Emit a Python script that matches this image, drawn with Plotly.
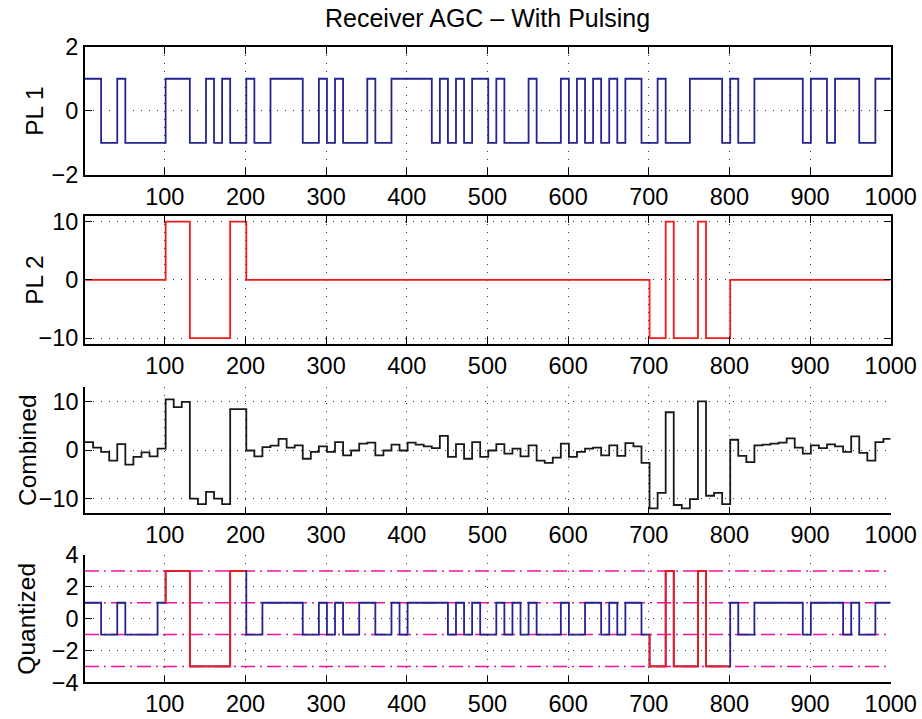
import numpy as np
import plotly.graph_objects as go

# ---------------- data (one value per 10-sample symbol, 100 symbols) ----------------
samples_per_symbol = 10
n_samples = 1000

pl1 = [1, 1, -1, -1, 1, -1, -1, -1, -1, -1,
       1, 1, 1, -1, -1, 1, -1, 1, -1, -1,
       1, -1, -1, 1, 1, 1, 1, -1, -1, 1,
       -1, 1, -1, -1, -1, 1, -1, -1, 1, 1,
       1, 1, 1, -1, 1, -1, 1, -1, 1, 1,
       -1, 1, -1, -1, -1, 1, -1, -1, -1, 1,
       -1, 1, -1, 1, -1, 1, -1, 1, 1, -1,
       -1, 1, -1, -1, -1, 1, 1, 1, 1, -1,
       1, -1, -1, 1, 1, 1, 1, 1, 1, -1,
       1, 1, -1, 1, 1, 1, -1, -1, 1, 1]

pl2 = [0, 0, 0, 0, 0, 0, 0, 0, 0, 0,
       10, 10, 10, -10, -10, -10, -10, -10, 10, 10,
       0, 0, 0, 0, 0, 0, 0, 0, 0, 0,
       0, 0, 0, 0, 0, 0, 0, 0, 0, 0,
       0, 0, 0, 0, 0, 0, 0, 0, 0, 0,
       0, 0, 0, 0, 0, 0, 0, 0, 0, 0,
       0, 0, 0, 0, 0, 0, 0, 0, 0, 0,
       -10, -10, 10, -10, -10, -10, 10, -10, -10, -10,
       0, 0, 0, 0, 0, 0, 0, 0, 0, 0,
       0, 0, 0, 0, 0, 0, 0, 0, 0, 0]

combined = [1.6, 0.5, -0.4, -2.2, 1.2, -3.0, -1.4, -0.5, -1.3, 0.3,
            10.4, 8.8, 9.9, -10.0, -11.1, -8.6, -10.0, -11.1, 8.4, 8.4,
            -0.1, -1.3, 0.6, 0.9, 2.3, 0.5, 0.95, -1.8, -0.4, 0.75,
            -0.4, 1.6, -1.1, -0.1, 1.3, 1.5, -1.1, -0.1, 1.1, -0.1,
            1.5, 1.1, 0.75, 0.4, 2.9, -1.4, 1.2, -1.8, 1.6, -1.4,
            -0.1, 1.2, -0.75, 0.3, -1.3, 0.95, -2.2, -2.65, -1.55, 1.3,
            -1.4, -0.4, 0.3, 0.5, -1.1, 0.95, -1.2, 1.4, 0.75, -2.65,
            -12.0, -8.8, 7.75, -11.3, -12.0, -10.1, 10.0, -9.4, -8.8, -11.1,
            2.1, -1.2, -2.5, 0.95, 1.1, 1.3, 1.5, 2.4, 0.5, -0.75,
            0.95, 0.4, 1.15, 0.75, -0.4, 2.8, -0.6, -2.2, 1.6, 2.3]

quantized = [1, 1, -1, -1, 1, -1, -1, -1, -1, 1,
             3, 3, 3, -3, -3, -3, -3, -3, 3, 3,
             -1, -1, 1, 1, 1, 1, 1, -1, -1, 1,
             -1, 1, -1, -1, 1, 1, -1, -1, 1, -1,
             1, 1, 1, 1, 1, -1, 1, -1, 1, -1,
             -1, 1, -1, 1, -1, 1, -1, -1, -1, 1,
             -1, -1, 1, 1, -1, 1, -1, 1, 1, -1,
             -3, -3, 3, -3, -3, -3, 3, -3, -3, -3,
             1, -1, -1, 1, 1, 1, 1, 1, 1, -1,
             1, 1, 1, 1, -1, 1, -1, -1, 1, 1]

pulse_windows = [(100, 200), (700, 800)]
quant_levels = [3, 1, -1, -3]
x_tick_vals = [100, 200, 300, 400, 500, 600, 700, 800, 900, 1000]

panel_titles = ["PL 1", "PL 2", "Combined", "Quantized"]
panel_ranges = [[-2, 2], [-11, 11], [-13, 13], [-4, 4]]
panel_yticks = [[-2, 0, 2], [-10, 0, 10], [-10, 0, 10], [-4, -2, 0, 2, 4]]
title_text = "Receiver AGC \u2013 With Pulsing"

# ---------------- helpers ----------------
sym_start = np.arange(len(pl1)) * samples_per_symbol + 1


def step_xy(vals):
    xs = np.append(sym_start, n_samples)
    ys = np.append(np.asarray(vals, float), vals[-1])
    return xs, ys


def window_xy(vals, a, b):
    k0 = (a - 1) // samples_per_symbol
    k1 = (b - 1) // samples_per_symbol
    xs = [a] + [samples_per_symbol * k + 1 for k in range(k0 + 1, k1 + 1)] + [b]
    ys = [vals[k0]] + [vals[k] for k in range(k0 + 1, k1 + 1)] + [vals[k1]]
    return xs, ys


BLUE = "rgb(35,35,145)"
RED = "rgb(245,25,25)"
BLACK = "rgb(25,25,25)"
MAG = "rgb(240,20,150)"
FONT = "Liberation Sans, Arial, Helvetica, sans-serif"
FS = 23.5
FS_LABEL = 24.5
FS_TITLE = 25

W, H = 922, 719
x_left, x_right = 85.0, 890.7
tops = [46.7, 215.7, 386.7, 555.0]
bottoms = [175.0, 344.0, 513.3, 682.3]

fig = go.Figure()

x, y = step_xy(pl1)
fig.add_trace(go.Scatter(x=x, y=y, mode="lines", line=dict(color=BLUE, width=1.8, shape="hv"),
                         xaxis="x", yaxis="y", showlegend=False))
x, y = step_xy(pl2)
fig.add_trace(go.Scatter(x=x, y=y, mode="lines", line=dict(color=RED, width=1.8, shape="hv"),
                         xaxis="x2", yaxis="y2", showlegend=False))
x, y = step_xy(combined)
fig.add_trace(go.Scatter(x=x, y=y, mode="lines", line=dict(color=BLACK, width=1.8, shape="hv"),
                         xaxis="x3", yaxis="y3", showlegend=False))
for lv in quant_levels:
    fig.add_trace(go.Scatter(x=[1, n_samples], y=[lv, lv], mode="lines",
                             line=dict(color=MAG, width=1.5, dash="14px,5px,2px,5px"),
                             xaxis="x4", yaxis="y4", showlegend=False))
x, y = step_xy(quantized)
fig.add_trace(go.Scatter(x=x, y=y, mode="lines", line=dict(color=BLUE, width=1.8, shape="hv"),
                         xaxis="x4", yaxis="y4", showlegend=False))
for a, b in pulse_windows:
    x, y = window_xy(quantized, a, b)
    fig.add_trace(go.Scatter(x=x, y=y, mode="lines", line=dict(color=RED, width=1.8, shape="hv"),
                             xaxis="x4", yaxis="y4", showlegend=False))

layout = dict(width=W, height=H, autosize=False, margin=dict(l=0, r=0, t=0, b=0, pad=0),
              paper_bgcolor="white", plot_bgcolor="white",
              font=dict(family=FONT, size=FS, color="black"))

for i in range(4):
    sfx = "" if i == 0 else str(i + 1)
    boxed = i < 2
    ydom = [1 - bottoms[i] / H, 1 - tops[i] / H]
    common = dict(showline=True, linecolor="black", linewidth=2 if boxed else 1.5,
                  mirror="ticks" if boxed else False, automargin=False,
                  ticks="inside", ticklen=7, tickwidth=1.3, tickcolor="black",
                  showgrid=True, gridcolor="rgb(60,60,60)", gridwidth=1, griddash="1px,7px",
                  zeroline=False, tickfont=dict(family=FONT, size=FS, color="black"))
    layout["xaxis" + sfx] = dict(common, domain=[x_left / W, x_right / W], range=[1, n_samples],
                                 tickvals=x_tick_vals, anchor="y" + sfx)
    layout["yaxis" + sfx] = dict(common, domain=ydom, range=panel_ranges[i],
                                 tickvals=panel_yticks[i], anchor="x" + sfx)

annotations = [dict(text=title_text, x=(x_left + x_right) / 2 / W, y=1 - 18 / H, xref="paper", yref="paper",
                    showarrow=False, font=dict(family=FONT, size=FS_TITLE, color="black"),
                    xanchor="center", yanchor="middle")]
label_x = [35, 35, 27, 27]
for i, t in enumerate(panel_titles):
    annotations.append(dict(text=t, x=label_x[i] / W, y=1 - (tops[i] + bottoms[i]) / 2 / H,
                            xref="paper", yref="paper", showarrow=False, textangle=-90,
                            font=dict(family=FONT, size=FS_LABEL, color="black"),
                            xanchor="center", yanchor="middle"))
layout["annotations"] = annotations

fig.update_layout(**layout)
fig.write_html("out.html")
